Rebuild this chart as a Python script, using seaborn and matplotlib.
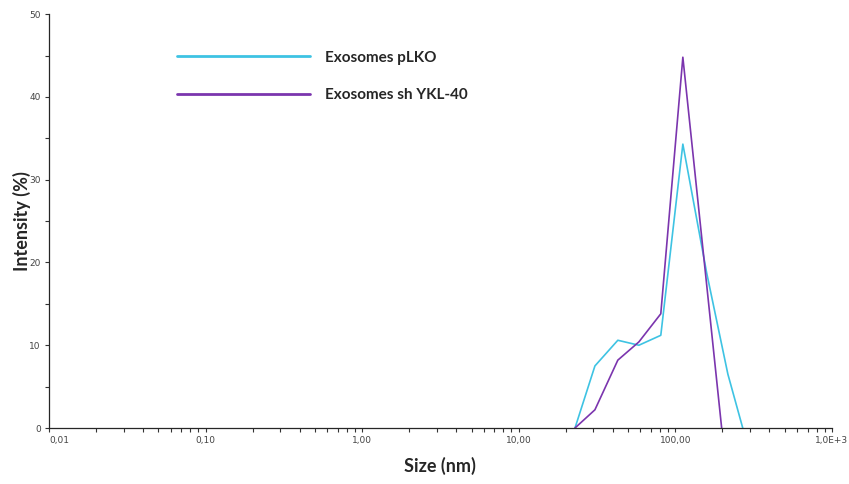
import numpy as np
import pandas as pd
import matplotlib
matplotlib.use("Agg")
import matplotlib.pyplot as plt
import matplotlib.ticker as mticker
import seaborn as sns

# Данные
size_pLKO = [22.9, 30.7, 43.0, 58.6, 80.9, 111.9, 159.0, 217.0, 270.0]
intensity_pLKO = [0.0, 7.5, 10.6, 10.0, 11.2, 34.3, 18.7, 6.5, 0.0]

size_sh = [22.9, 30.7, 43.0, 58.6, 80.9, 111.9, 198.0]
intensity_sh = [0.0, 2.2, 8.2, 10.4, 13.8, 44.8, 0.0]

labels = ["Exosomes pLKO", "Exosomes sh YKL-40"]
colors = ["#3EC3E3", "#7B35AE"]

x_ticks = [0.01, 0.1, 1, 10, 100, 1000]
x_tick_labels = ["0,01", "0,10", "1,00", "10,00", "100,00", "1,0E+3"]

df = pd.concat([
    pd.DataFrame({"size": size_pLKO, "intensity": intensity_pLKO, "sample": labels[0]}),
    pd.DataFrame({"size": size_sh, "intensity": intensity_sh, "sample": labels[1]}),
])

sns.set_style("ticks")
plt.rcParams["font.family"] = ["DejaVu Sans"]

fig = plt.figure(figsize=(8.49, 4.84), dpi=100)
ax = fig.add_axes([0.0577, 0.1157, 0.922, 0.855])

sns.lineplot(data=df, x="size", y="intensity", hue="sample", palette=colors,
             sort=False, estimator=None, ax=ax, linewidth=1.2, legend=False)

ax.set_xscale("log")
ax.set_xlim(0.01, 1000)
ax.set_ylim(0, 50)
ax.set_xticks(x_ticks)
ax.set_xticklabels(x_tick_labels)
ax.xaxis.set_minor_locator(mticker.LogLocator(base=10, subs=np.arange(2, 10)))
ax.xaxis.set_minor_formatter(mticker.NullFormatter())
ax.set_yticks(range(0, 51, 10))
ax.yaxis.set_minor_locator(mticker.MultipleLocator(5))
ax.tick_params(axis="both", which="major", labelsize=6.5, labelcolor="#444444",
               length=3, width=0.8, color="#333333", pad=3)
ax.tick_params(axis="both", which="minor", length=3, width=0.8, color="#333333")
ax.get_xticklabels()[0].set_horizontalalignment("left")

sns.despine(ax=ax)
ax.spines["left"].set_linewidth(0.9)
ax.spines["bottom"].set_linewidth(0.9)

ax.set_xlabel("Size (nm)", fontsize=13, fontweight="bold", family="Lato", labelpad=8)
ax.set_ylabel("Intensity (%)", fontsize=13, fontweight="bold", family="Lato", labelpad=-1)

# Легенда
handles = [plt.Line2D([], [], color=colors[0], linewidth=2),
           plt.Line2D([], [], color=colors[1], linewidth=2)]
ax.legend(handles, labels, loc="upper left", bbox_to_anchor=(0.146, 0.945),
          frameon=False, handlelength=8.7, handletextpad=1.0, labelspacing=1.55,
          prop={"family": "Lato", "weight": "bold", "size": 11})

plt.savefig("out.png", dpi=100)
